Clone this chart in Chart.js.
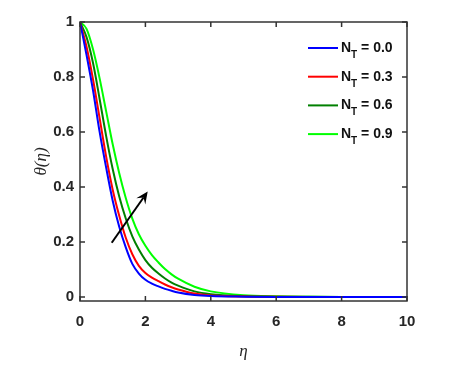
<!DOCTYPE html>
<html>
<head>
<meta charset="utf-8">
<script src="https://cdn.jsdelivr.net/npm/chart.js@4"></script>
<style>
  html, body { margin: 0; padding: 0; background: #fff; }
  #wrap { width: 465px; height: 373px; }
</style>
</head>
<body>
<div id="wrap"><canvas id="myChart"></canvas></div>
<script>
// datos
const eta = [0, 0.2, 0.4, 0.6, 0.8, 1, 1.2, 1.4, 1.6, 1.8, 2, 2.2, 2.4, 2.6, 2.8, 3, 3.5, 4, 5, 6, 7, 8, 10];
const ntValues = ["0.0", "0.3", "0.6", "0.9"];
const theta00 = [1, 0.88, 0.75, 0.60, 0.47, 0.35, 0.255, 0.18, 0.12, 0.085, 0.062, 0.048, 0.038, 0.029, 0.022, 0.016, 0.007, 0.003, 0.0008, 0, 0, 0, 0];
const theta03 = [1, 0.91, 0.79, 0.65, 0.51, 0.39, 0.295, 0.215, 0.155, 0.113, 0.087, 0.07, 0.057, 0.045, 0.035, 0.027, 0.012, 0.005, 0.0012, 0.0003, 0, 0, 0];
const theta06 = [1, 0.945, 0.85, 0.72, 0.585, 0.465, 0.365, 0.285, 0.22, 0.172, 0.134, 0.106, 0.085, 0.067, 0.052, 0.041, 0.02, 0.01, 0.0028, 0.0008, 0.0002, 0, 0];
const theta09 = [1, 0.975, 0.90, 0.795, 0.675, 0.555, 0.45, 0.36, 0.285, 0.228, 0.186, 0.152, 0.125, 0.101, 0.082, 0.066, 0.037, 0.02, 0.006, 0.002, 0.0006, 0, 0];
const colores = ["#0000ff", "#ff0000", "#008000", "#00ff00"];
const xTicks = [0, 2, 4, 6, 8, 10];
const yTicks = [0, 0.2, 0.4, 0.6, 0.8, 1];
// flecha (cola y punta) en coordenadas de datos
const arrowFrom = {x: 0.97, y: 0.197};
const arrowTo = {x: 2.07, y: 0.383};

const series = [theta00, theta03, theta06, theta09];
const datasets = series.map((s, i) => ({
  label: "N_T = " + ntValues[i],
  data: eta.map((e, k) => ({x: e, y: s[k]})),
  borderColor: colores[i],
  backgroundColor: colores[i],
  borderWidth: 2,
  pointRadius: 0,
  cubicInterpolationMode: "monotone",
  fill: false
}));

const frameColor = "#333333";

// marco con ticks hacia adentro, flecha y leyenda
const extrasPlugin = {
  id: "extras",
  afterDatasetsDraw(chart) {
    const ctx = chart.ctx;
    const a = chart.chartArea;
    const xs = chart.scales.x;
    const ys = chart.scales.y;
    ctx.save();
    // flecha
    const x1 = xs.getPixelForValue(arrowFrom.x), y1 = ys.getPixelForValue(arrowFrom.y);
    const x2 = xs.getPixelForValue(arrowTo.x), y2 = ys.getPixelForValue(arrowTo.y);
    const ang = Math.atan2(y2 - y1, x2 - x1);
    const hl = 12, hw = 5.5;
    ctx.strokeStyle = "#000";
    ctx.fillStyle = "#000";
    ctx.lineWidth = 2;
    ctx.beginPath();
    ctx.moveTo(x1, y1);
    ctx.lineTo(x2 - Math.cos(ang) * hl * 0.6, y2 - Math.sin(ang) * hl * 0.6);
    ctx.stroke();
    ctx.beginPath();
    ctx.moveTo(x2, y2);
    ctx.lineTo(x2 - Math.cos(ang) * hl - Math.sin(ang) * hw, y2 - Math.sin(ang) * hl + Math.cos(ang) * hw);
    ctx.lineTo(x2 - Math.cos(ang) * hl * 0.6, y2 - Math.sin(ang) * hl * 0.6);
    ctx.lineTo(x2 - Math.cos(ang) * hl + Math.sin(ang) * hw, y2 - Math.sin(ang) * hl - Math.cos(ang) * hw);
    ctx.closePath();
    ctx.fill();

    // marco
    ctx.strokeStyle = frameColor;
    ctx.lineWidth = 1.5;
    ctx.strokeRect(a.left, a.top, a.right - a.left, a.bottom - a.top);
    const tl = 5;
    ctx.beginPath();
    xTicks.forEach(v => {
      const px = xs.getPixelForValue(v);
      ctx.moveTo(px, a.bottom); ctx.lineTo(px, a.bottom - tl);
      ctx.moveTo(px, a.top); ctx.lineTo(px, a.top + tl);
    });
    yTicks.forEach(v => {
      const py = ys.getPixelForValue(v);
      ctx.moveTo(a.left, py); ctx.lineTo(a.left + tl, py);
      ctx.moveTo(a.right, py); ctx.lineTo(a.right - tl, py);
    });
    ctx.stroke();

    // leyenda con subindice
    chart.data.datasets.forEach((ds, i) => {
      const base = 52 + 28.7 * i;
      const lx = 308;
      ctx.strokeStyle = ds.borderColor;
      ctx.lineWidth = 2;
      ctx.beginPath();
      ctx.moveTo(lx, base - 4);
      ctx.lineTo(lx + 30, base - 4);
      ctx.stroke();
      const parts = ds.label.split("_");
      const main = parts[0];
      const sub = parts[1].charAt(0);
      const rest = parts[1].slice(1);
      ctx.fillStyle = "#111";
      ctx.textBaseline = "alphabetic";
      ctx.textAlign = "left";
      let tx = lx + 33;
      ctx.font = "bold 14px 'Liberation Sans', Arial, sans-serif";
      ctx.fillText(main, tx, base);
      tx += ctx.measureText(main).width;
      ctx.font = "bold 10px 'Liberation Sans', Arial, sans-serif";
      ctx.fillText(sub, tx, base + 6);
      tx += ctx.measureText(sub).width;
      ctx.font = "bold 14px 'Liberation Sans', Arial, sans-serif";
      ctx.fillText(rest, tx, base);
    });
    ctx.restore();
  }
};

const tickFont = {family: "'Liberation Sans', Arial, sans-serif", size: 15, weight: "bold"};
const titleFont = {family: "'Liberation Serif', 'Times New Roman', serif", size: 17, style: "italic"};

new Chart(document.getElementById("myChart"), {
  type: "line",
  data: {datasets: datasets},
  options: {
    responsive: true,
    maintainAspectRatio: false,
    animation: false,
    layout: {padding: {left: 0, right: 58, top: 22, bottom: 0}},
    plugins: {legend: {display: false}, tooltip: {enabled: false}},
    scales: {
      x: {
        type: "linear",
        min: 0,
        max: 10,
        grid: {display: false, drawTicks: false},
        border: {display: false},
        afterBuildTicks: s => { s.ticks = xTicks.map(v => ({value: v})); },
        afterFit: s => { s.height = 72; },
        ticks: {font: tickFont, color: "#262626", padding: 12, maxRotation: 0},
        title: {display: true, text: "η", font: titleFont, color: "#262626", padding: {top: 0, bottom: 11}}
      },
      y: {
        type: "linear",
        min: -0.015,
        max: 1,
        grid: {display: false, drawTicks: false},
        border: {display: false},
        afterBuildTicks: s => { s.ticks = yTicks.map(v => ({value: v})); },
        afterFit: s => { s.width = 80; },
        ticks: {font: tickFont, color: "#262626", padding: 6, callback: v => String(+v.toFixed(1))},
        title: {display: true, text: "θ(η)", font: titleFont, color: "#262626", padding: {top: 31, bottom: 0}}
      }
    }
  },
  plugins: [extrasPlugin]
});
</script>
</body>
</html>
